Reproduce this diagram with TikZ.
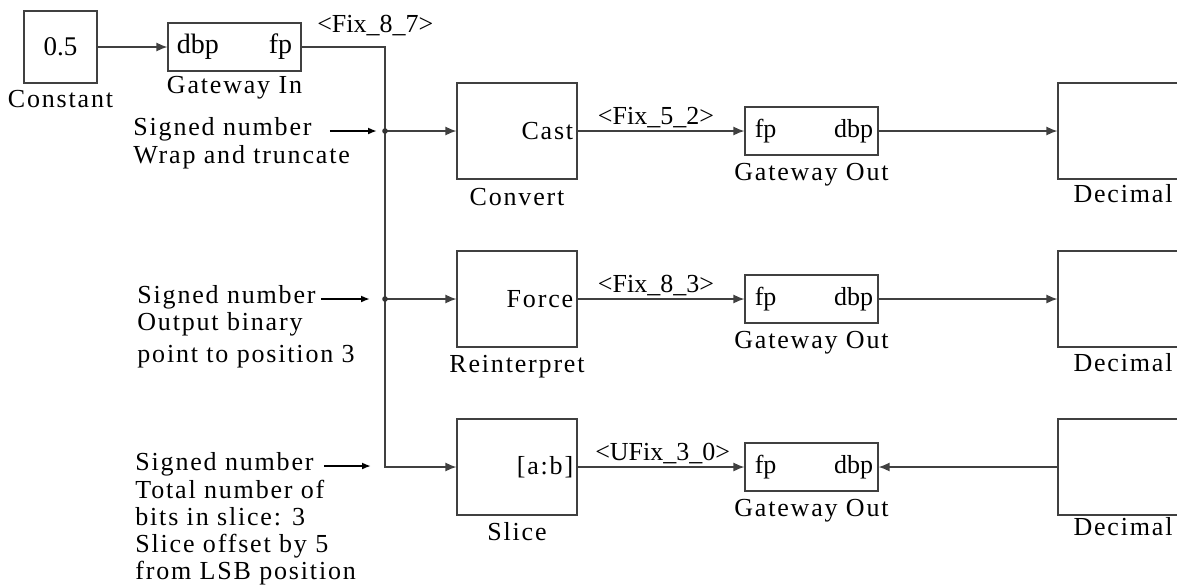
\documentclass[tikz,border=0pt]{standalone}
\usepackage{fontspec}
\setmainfont{Liberation Serif}
\newfontfamily\spacedfont[LetterSpace=7]{Liberation Serif}
\usetikzlibrary{positioning,arrows.meta}

\tikzset{
  block/.style={draw=black!75, line width=0.6pt, inner sep=0pt},
  proc/.style={block, minimum width=60pt, minimum height=48pt},
  gate/.style={block, minimum width=66.5pt, minimum height=24pt},
  disp/.style={block, minimum width=65pt, minimum height=48pt},
  under/.style={font=\spacedfont\fontsize{13}{14}\selectfont, inner sep=0pt,
    text height=0.68em, text depth=0.2em, label distance=5.5pt},
  inl/.style={font=\spacedfont\fontsize{13}{14}\selectfont, inner sep=0pt,
    anchor=east, xshift=-2pt},
  port/.style={font=\fontsize{13}{14}\selectfont, inner sep=0pt},
  pl/.style={port, anchor=west, xshift=5pt},
  pr/.style={port, anchor=east, xshift=-2.5pt},
  sig/.style={font=\fontsize{13}{14}\selectfont, inner sep=1.5pt},
  wire/.style={draw=black!75, line width=0.65pt},
  hint/.style={line width=1pt, -{Latex[length=4.5pt,width=3.5pt]}},
  hd/.style={font=\spacedfont\fontsize{13}{14}\selectfont, inner sep=0pt,
    text height=0.68em, text depth=0.2em},
  note/.style={font=\spacedfont\fontsize{13}{13.5}\selectfont, align=left, inner sep=0pt},
}

\begin{document}
\begin{tikzpicture}[x=0.5pt, y=-0.5pt, >={Latex[length=5.5pt,width=4.5pt]}]
    \useasboundingbox (0,0) rectangle (1177,585);
    \clip (0,0) rectangle (1177,585);

    % source side
    \node[block, minimum width=36.5pt, minimum height=36pt, font=\fontsize{13.5}{14}\selectfont,
      label={[under, label distance=5pt]below:Constant}] (const) at (60.5,47) {0.5};
    \node[gate, label={[pl, font=\fontsize{14}{15}\selectfont, xshift=-0.5pt]west:dbp},
      label={[pr, font=\fontsize{14}{15}\selectfont, xshift=-2pt]east:fp},
      label={[under, label distance=4pt]below:Gateway In}] (gwin) at (234.5,47) {};

    \coordinate (j1) at (385,131);
    \coordinate (j2) at (385,299);

    % row 1
    \node[proc, label={[inl]east:Cast}, label={[under, label distance=6pt]below:Convert}] (conv) at (517,131) {};
    \node[gate, label={[pl]west:fp}, label={[pr]east:dbp}, label={[under]below:Gateway Out}] (gwo1) at (811.5,131) {};
    \node[disp, label={[under, label distance=4.5pt]below:Decimal}] (dec1) at (1123,131) {};

    % row 2
    \node[proc, label={[inl]east:Force}, label={[under]below:Reinterpret}] (reint) at (517,299) {};
    \node[gate, label={[pl]west:fp}, label={[pr]east:dbp}, label={[under]below:Gateway Out}] (gwo2) at (811.5,299) {};
    \node[disp, label={[under, label distance=5pt]below:Decimal}] (dec2) at (1123,299) {};

    % row 3
    \node[proc, label={[inl]east:{[a:b]}}, label={[under]below:Slice}] (slice) at (517,467) {};
    \node[gate, label={[pl]west:fp}, label={[pr]east:dbp}, label={[under]below:Gateway Out}] (gwo3) at (811.5,467) {};
    \node[disp, label={[under, label distance=3pt]below:Decimal}] (dec3) at (1123,467) {};

    % wires
    \draw[wire,->] (const) -- (gwin);
    \draw[wire,->] (gwin.east) node[sig, anchor=south west, xshift=6pt, yshift=4pt] {<Fix\_8\_7>}
      -| (j1) |- (slice);
    \draw[wire,->] (j1) -- (conv);
    \draw[wire,->] (j2) -- (reint);
    \fill[black!80] (j1) circle[radius=1.4pt] (j2) circle[radius=1.4pt];

    \draw[wire,->] (conv) -- node[sig, above, pos=0.47] {<Fix\_5\_2>} (gwo1);
    \draw[wire,->] (reint) -- node[sig, above, pos=0.47] {<Fix\_8\_3>} (gwo2);
    \draw[wire,->] (slice) -- node[sig, above, pos=0.51] {<UFix\_3\_0>} (gwo3);
    \draw[wire,->] (gwo1) -- (dec1);
    \draw[wire,->] (gwo2) -- (dec2);
    \draw[wire,->] (dec3) -- (gwo3);

    % notes on the left
    \node[hd, anchor=west] (sn1) at (133,131) {Signed number};
    \node[note, below=2.5pt of sn1.south west, anchor=north west] (nt1) {Wrap and truncate};
    \coordinate (t1) at (377,131);
    \draw[hint, shorten <=9pt] (sn1) -- (t1);

    \node[hd, anchor=west] (sn2) at (137,299) {Signed number};
    \node[note, below=2pt of sn2.south west, anchor=north west] (nt2) {Output binary\\[2.5pt]point to position 3};
    \coordinate (t2) at (370,299);
    \draw[hint, shorten <=2.5pt] (sn2) -- (t2);

    \node[hd, anchor=west] (sn3) at (135,466) {Signed number};
    \node[note, below=2.5pt of sn3.south west, anchor=north west] (nt3)
      {Total number of\\bits in slice: 3\\Slice offset by 5\\from LSB position};
    \coordinate (t3) at (371,466);
    \draw[hint, shorten <=5pt] (sn3) -- (t3);
\end{tikzpicture}
\end{document}
